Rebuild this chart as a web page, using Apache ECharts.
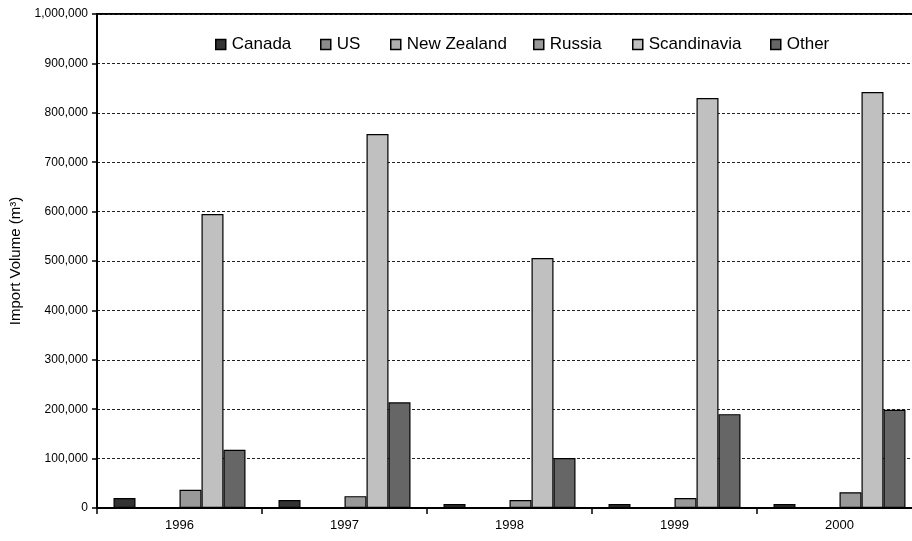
<!DOCTYPE html>
<html>
<head>
<meta charset="utf-8">
<script src="https://cdn.jsdelivr.net/npm/echarts@6/dist/echarts.min.js"></script>
<style>
html,body{margin:0;padding:0;background:#fff;}
#chart{width:912px;height:541px;}
</style>
</head>
<body>
<div id="chart"></div>
<script>
// ---- data ----
const years = ['1996', '1997', '1998', '1999', '2000'];
const seriesNames = ['Canada', 'US', 'New Zealand', 'Russia', 'Scandinavia', 'Other'];
const canada = [20000, 16000, 8000, 8000, 8000];
const us = [0, 0, 0, 0, 0];
const newZealand = [0, 0, 0, 0, 0];
const russia = [37000, 24000, 16000, 20000, 32000];
const scandinavia = [595000, 757000, 506000, 830000, 842000];
const other = [118000, 214000, 101000, 190000, 199000];
const yTicks = [0, 100000, 200000, 300000, 400000, 500000, 600000, 700000, 800000, 900000, 1000000];

// ---- styles ----
const colors = ['#333333', '#8c8c8c', '#b0b0b0', '#999999', '#c0c0c0', '#666666'];
const values = [canada, us, newZealand, russia, scandinavia, other];
const legendLeft = [210, 315, 385, 528, 627, 765];
const font = 'Arial, "Liberation Sans", sans-serif';

function commas(v) {
  return String(v).replace(/\B(?=(\d{3})+(?!\d))/g, ',');
}

const chart = echarts.init(document.getElementById('chart'), null, {renderer: 'canvas'});

const series = seriesNames.map((name, i) => ({
  name: name,
  type: 'bar',
  data: values[i],
  barGap: '0%',
  barCategoryGap: '20%',
  itemStyle: {color: colors[i], borderColor: '#000', borderWidth: 1.2},
  emphasis: {disabled: true},
  animation: false
}));

const legends = seriesNames.map((name, i) => ({
  data: [name],
  left: legendLeft[i],
  top: 31,
  itemWidth: 10,
  itemHeight: 10,
  icon: 'rect',
  itemStyle: {borderColor: '#000', borderWidth: 1.5},
  textStyle: {fontFamily: font, fontSize: 17, color: '#000', padding: [0, 0, 0, 1]},
  selectedMode: false
}));

chart.setOption({
  animation: false,
  backgroundColor: '#fff',
  legend: legends,
  grid: {
    left: 97, width: 825, top: 14, bottom: 33,
    containLabel: false,
    outerBoundsMode: 'none',
    show: true, borderColor: '#000', borderWidth: 2, backgroundColor: 'transparent'
  },
  xAxis: {
    type: 'category',
    data: years,
    axisLine: {lineStyle: {color: '#000', width: 2}},
    axisTick: {show: true, length: 6, lineStyle: {color: '#000', width: 1.5}},
    axisLabel: {fontFamily: font, fontSize: 13, color: '#000', margin: 11}
  },
  yAxis: {
    type: 'value',
    min: yTicks[0],
    max: yTicks[yTicks.length - 1],
    interval: yTicks[1] - yTicks[0],
    name: 'Import Volume (m³)',
    nameLocation: 'middle',
    nameRotate: 90,
    nameGap: 73,
    nameTextStyle: {fontFamily: font, fontSize: 15, color: '#000'},
    axisLine: {show: true, lineStyle: {color: '#000', width: 2}},
    axisTick: {show: true, length: 5, lineStyle: {color: '#000', width: 1.5}},
    axisLabel: {fontFamily: font, fontSize: 12, color: '#000', margin: 9, formatter: v => commas(v)},
    splitLine: {show: true, lineStyle: {color: '#222', width: 1, type: [3, 2]}}
  },
  series: series
});
</script>
</body>
</html>
